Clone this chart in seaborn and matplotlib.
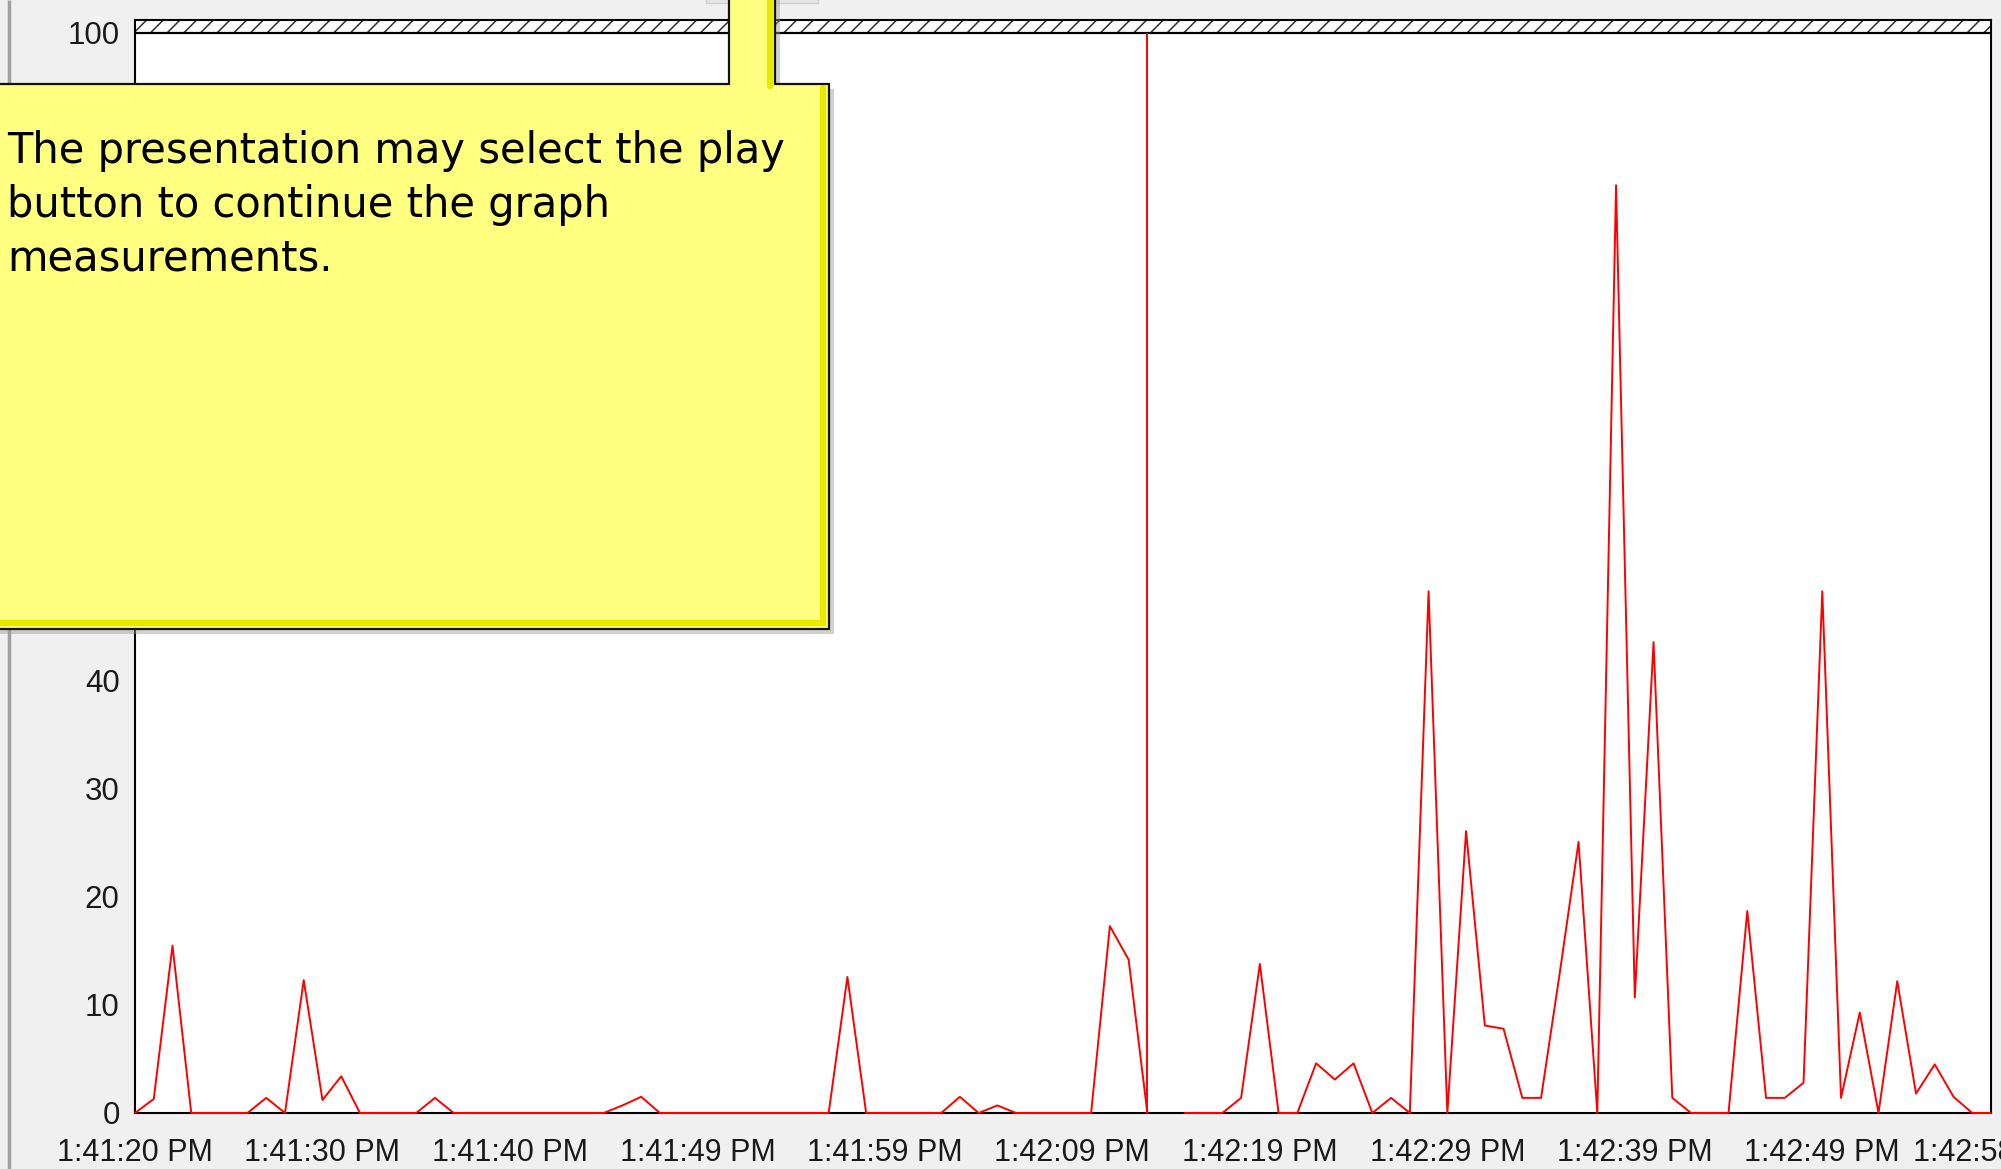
import numpy as np
import pandas as pd
import seaborn as sns
import matplotlib.pyplot as plt
from matplotlib.patches import Polygon, Rectangle

# --- values (1 sample per second, 100 samples) ---
sample_values = [
    0, 1.3, 15.5, 0, 0, 0, 0, 1.4, 0, 12.3,
    1.2, 3.4, 0, 0, 0, 0, 1.4, 0, 0, 0,
    0, 0, 0, 0, 0, 0, 0.7, 1.5, 0, 0,
    0, 0, 0, 0, 0, 0, 0, 0, 12.6, 0,
    0, 0, 0, 0, 1.5, 0, 0.7, 0, 0, 0,
    0, 0, 17.3, 14.2, 0, np.nan, 0, 0, 0, 1.4,
    13.8, 0, 0, 4.6, 3.1, 4.6, 0, 1.4, 0, 48.3,
    0, 26.1, 8.1, 7.8, 1.4, 1.4, 13.0, 25.1, 0, 85.9,
    10.7, 43.6, 1.4, 0, 0, 0, 18.7, 1.4, 1.4, 2.8,
    48.3, 1.4, 9.3, 0, 12.2, 1.8, 4.5, 1.5, 0, 0,
]
time_bar_sample = 54  # red "current position" bar

tick_samples = [0, 10, 20, 30, 40, 50, 60, 70, 80, 90, 99]
tick_labels = ['1:41:20 PM', '1:41:30 PM', '1:41:40 PM', '1:41:49 PM', '1:41:59 PM',
               '1:42:09 PM', '1:42:19 PM', '1:42:29 PM', '1:42:39 PM', '1:42:49 PM',
               '1:42:58 PM']
y_ticks = [0, 10, 20, 30, 40, 50, 60, 70, 80, 90, 100]
# 50..90 sit under the callout in the screenshot, so only these are readable
y_labels = ['0', '10', '20', '30', '40', '', '', '', '', '', '100']
y_max = 100
y_top = 101.2  # hatched band above the scale maximum

callout_text = ("The presentation may select the play\n"
                "button to continue the graph\n"
                "measurements.")

# --- build a frame; the gap after the time bar splits the trace in two ---
df = pd.DataFrame({'sample': np.arange(len(sample_values)), 'value': sample_values})
df['segment'] = df['value'].isna().cumsum()
df = df.dropna()

sns.set_style('white')
tick_font = ['Liberation Sans Narrow', 'Liberation Sans', 'DejaVu Sans']

W, H = 2001, 1169
fig = plt.figure(figsize=(W / 100, H / 100), dpi=100, facecolor='#f0f0f0')
ax = fig.add_axes([135 / W, (H - 1113) / H, (1991 - 135) / W, (1113 - 20) / H])
ax.set_facecolor('white')

sns.lineplot(data=df, x='sample', y='value', units='segment', estimator=None,
             color='#ff0000', lw=1.4, ax=ax, legend=False, clip_on=False, zorder=4)
ax.vlines(time_bar_sample, 0, y_max, color='#ff0000', lw=1.4, zorder=4)

# hatched strip above the 100 line
plt.rcParams['hatch.linewidth'] = 1.1
ax.axhspan(y_max, y_top, facecolor='white', edgecolor='#303030', hatch='//', lw=0, zorder=1)
ax.axhline(y_max, color='black', lw=1.6, zorder=3)

ax.set_xlim(0, len(sample_values) - 1)
ax.set_ylim(0, y_top)
ax.set_xticks(tick_samples)
ax.set_xticklabels(tick_labels, family=tick_font, fontsize=22, color='#1a1a1a')
ax.set_yticks(y_ticks)
ax.set_yticklabels(y_labels, family=tick_font, fontsize=22.5, color='#1a1a1a')
ax.tick_params(axis='x', direction='out', length=7, width=1.6, pad=11, colors='black',
               labelcolor='#1a1a1a')
ax.tick_params(axis='y', direction='out', length=8, width=1.2, pad=3, colors='black',
               labelcolor='#1a1a1a')
ax.set_xlabel('')
ax.set_ylabel('')
for side in ['left', 'right', 'top', 'bottom']:
    ax.spines[side].set_visible(True)
    ax.spines[side].set_color('black')
    ax.spines[side].set_linewidth(1.5)

# --- window chrome + yellow callout, drawn in pixel coordinates ---
ov = fig.add_axes([0, 0, 1, 1], zorder=10)
ov.set_xlim(0, W)
ov.set_ylim(H, 0)
ov.axis('off')
ov.patch.set_alpha(0)

ov.plot([9, 9], [0, H], color='#a0a0a0', lw=2.5, solid_capstyle='butt', zorder=0.5)
ov.add_patch(Rectangle((706, -10), 112, 13, facecolor='#e4e4e4', edgecolor='#cfcfcf',
                       lw=1, zorder=0.6))

shape = [(-5, 84), (729, 84), (729, -5), (775, -5), (775, 84), (829, 84), (829, 629), (-5, 629)]
shadow = [(x + 5, y + 5) for x, y in shape]
ov.add_patch(Polygon(shadow, closed=True, facecolor='#9a9a9a', edgecolor='none',
                     alpha=0.45, zorder=1))
ov.add_patch(Polygon(shape, closed=True, facecolor='#ffff80', edgecolor='none', zorder=2))
# bevel on the lower / right edges
ov.plot([-5, 823, 823], [623, 623, 88], color='#e8e800', lw=4.5,
        solid_joinstyle='miter', zorder=3)
ov.plot([770, 770], [-5, 86], color='#e8e800', lw=4.5, zorder=3)
ov.add_patch(Polygon(shape, closed=True, facecolor='none', edgecolor='#141400',
                     lw=1.6, zorder=4))

ov.text(7, 130, callout_text, family='DejaVu Sans', fontsize=30, color='black',
        va='top', ha='left', linespacing=1.36, zorder=5)

fig.savefig('out.png', dpi=100, facecolor=fig.get_facecolor())
